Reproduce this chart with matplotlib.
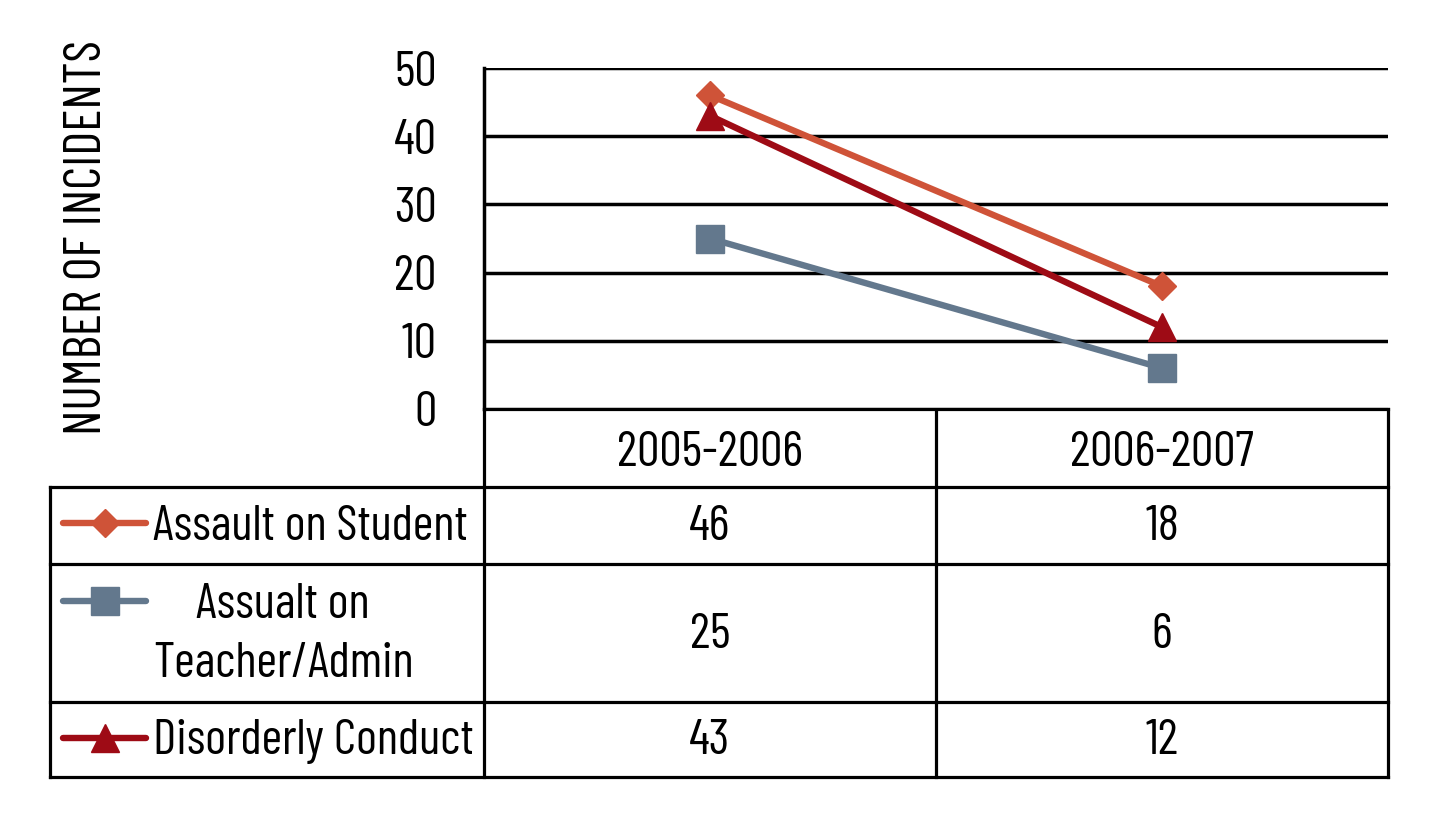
import matplotlib
matplotlib.use('Agg')
import matplotlib.pyplot as plt
from matplotlib import font_manager
from matplotlib.transforms import blended_transform_factory

# police etroite : on prend la premiere installee
noms = {f.name for f in font_manager.fontManager.ttflist}
candidats = ['Barlow Condensed', 'Roboto Condensed', 'Liberation Sans Narrow', 'DejaVu Sans']
police = next(c for c in candidats if c in noms)
plt.rcParams['font.family'] = [police, 'DejaVu Sans']

# donnees
annees = ['2005-2006', '2006-2007']
series = ['Assault on Student', 'Assualt on\nTeacher/Admin', 'Disorderly Conduct']
assault_student = [46, 18]
assault_teacher = [25, 6]
disorderly = [43, 12]
valeurs = [assault_student, assault_teacher, disorderly]
couleurs = ['#CF5338', '#63788D', '#9E0B15']
marqueurs = ['D', 's', '^']
tailles = [14, 20, 20]
yticks = [0, 10, 20, 30, 40, 50]

W, H = 1440, 832
TAILLE = 36
fig = plt.figure(figsize=(W / 100, H / 100), dpi=100)

# axe du graphique (pixels 484..1388, 68..409)
ax = fig.add_axes([484 / W, (H - 409) / H, (1388 - 484) / W, (409 - 68) / H])
ax.set_xlim(-0.5, len(annees) - 0.5)
ax.set_ylim(0, 50)
for i in range(len(series)):
    ax.plot(range(len(annees)), valeurs[i], color=couleurs[i], lw=4.6,
            marker=marqueurs[i], markersize=tailles[i], zorder=3, clip_on=False)
ax.set_yticks(yticks)
ax.set_yticklabels([str(v) for v in yticks], fontsize=TAILLE)
ax.tick_params(axis='y', length=0, pad=34)
ax.set_xticks([])
ax.yaxis.grid(True, color='black', lw=2.5)
ax.set_axisbelow(True)
for s in ['top', 'right', 'bottom']:
    ax.spines[s].set_visible(False)
ax.spines['left'].set_linewidth(2.5)

fig.text(88 / W, 1 - 238 / H, 'NUMBER OF INCIDENTS', rotation=90, fontsize=37,
         ha='center', va='center')

# table en coordonnees pixels
tab = fig.add_axes([0, 0, 1, 1], zorder=-1)
tab.set_xlim(0, W)
tab.set_ylim(H, 0)
tab.axis('off')
lw = 2.3
lignes_y = [409, 487, 564, 702, 777]
centres_y = [527, 635, 742]
tab.plot([484, 1388], [409, 409], color='black', lw=lw)
for y in lignes_y[1:]:
    tab.plot([50, 1388], [y, y], color='black', lw=lw)
tab.plot([50, 50], [487, 777], color='black', lw=lw)
tab.plot([484, 484], [409, 777], color='black', lw=lw)
tab.plot([936, 936], [409, 777], color='black', lw=lw)
tab.plot([1388, 1388], [409, 777], color='black', lw=lw)

trans = blended_transform_factory(ax.transData, tab.transData)
for j, a in enumerate(annees):
    tab.text(j, 454, a, transform=trans, ha='center', va='center', fontsize=TAILLE)

leg_y = [523, 601, 738]
for i, nom in enumerate(series):
    tab.plot([63, 146], [leg_y[i], leg_y[i]], color=couleurs[i], lw=4.6,
             solid_capstyle='round')
    tab.plot([105], [leg_y[i]], marker=marqueurs[i], color=couleurs[i],
             markersize=tailles[i])
    tab.text(153, centres_y[i], nom, ha='left', va='center', fontsize=TAILLE,
             multialignment='center', linespacing=1.42)
    for j in range(len(annees)):
        tab.text(j, centres_y[i], str(valeurs[i][j]), transform=trans,
                 ha='center', va='center', fontsize=TAILLE)

fig.savefig('out.png', dpi=100)
